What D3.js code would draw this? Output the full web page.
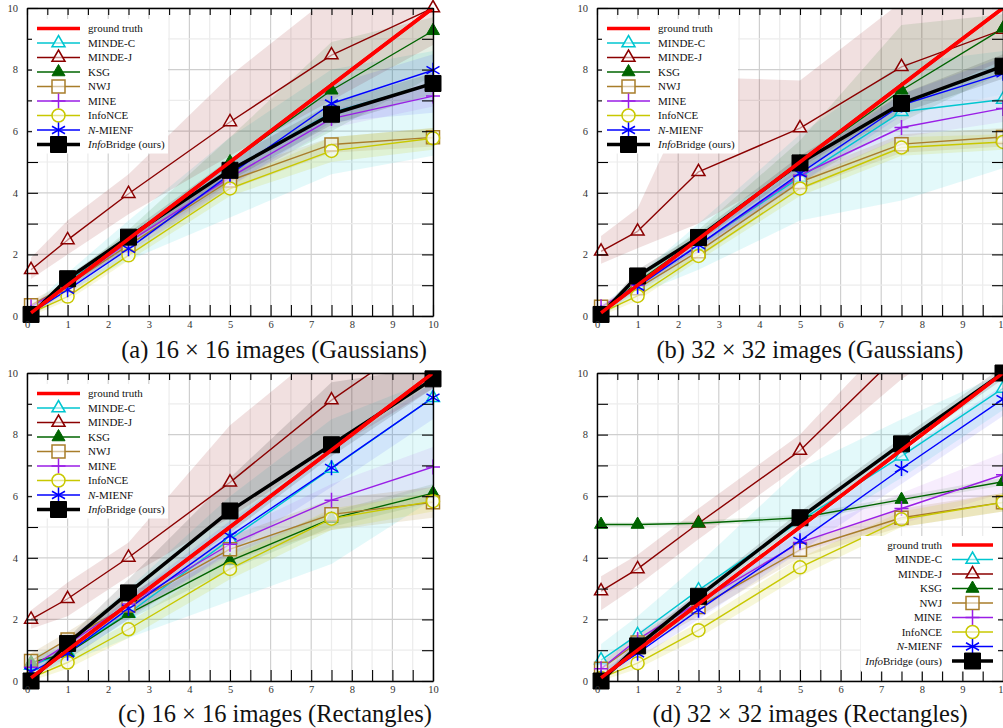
<!DOCTYPE html>
<html><head><meta charset="utf-8">
<script src="https://cdn.jsdelivr.net/npm/d3@7"></script>
<style>body{margin:0;background:#fff} svg{display:block}</style>
</head><body>
<svg id="chart" width="1003" height="728"></svg>
<script>
// ---------- data ----------
const xValues = [0.1, 1, 2.5, 5, 7.5, 10];
const methods = ["ground truth","MINDE-C","MINDE-J","KSG","NWJ","MINE","InfoNCE","N-MIENF","InfoBridge (ours)"];
const xTicks = [0,1,2,3,4,5,6,7,8,9,10];
const xMinorTicks = [0,0.5,1,1.5,2,2.5,3,3.5,4,4.5,5,5.5,6,6.5,7,7.5,8,8.5,9,9.5,10];
const yTicks = [0,1,2,3,4,5,6,7,8,9,10];
const yLabelTicks = [0,2,4,6,8,10];
const titles = ["(a) 16 \u00d7 16 images (Gaussians)","(b) 32 \u00d7 32 images (Gaussians)",
                "(c) 16 \u00d7 16 images (Rectangles)","(d) 32 \u00d7 32 images (Rectangles)"];

// Panel (a): rows in methods order
const meanA = [
  [0.1,1,2.5,5,7.5,10],
  [0.1,1.1,2.5,4.75,6.6,7.55],
  [1.5,2.47,3.97,6.3,8.47,10.0],
  [0.1,1.05,2.5,5.0,7.33,9.26],
  [0.35,1.0,2.3,4.4,5.57,5.8],
  [0.3,1.0,2.4,4.5,6.41,7.14],
  [0.1,0.63,1.97,4.14,5.36,5.77],
  [0.1,0.85,2.18,4.6,6.9,7.98],
  [0.05,1.21,2.56,4.73,6.55,7.55]
];
const lowA = [
  null,
  [0,0.8,1.8,3.2,4.6,5.2],
  [1.2,2.0,3.3,5.2,7.0,8.8],
  [0,0.9,2.2,4.3,6.0,7.8],
  [0.2,0.9,2.1,4.1,5.3,5.5],
  [0.2,0.9,2.2,4.2,6.1,6.8],
  [0,0.5,1.8,3.9,5.0,5.4],
  [0,0.7,2.0,4.2,6.3,6.6],
  [0,1.1,2.4,4.4,6.2,7.2]
];
const highA = [
  null,
  [0.3,1.4,3.1,5.8,8.0,8.6],
  [1.9,3.1,4.6,7.8,10.4,11],
  [0.2,1.2,2.8,5.8,8.9,9.7],
  [0.5,1.1,2.5,4.7,5.8,6.1],
  [0.4,1.1,2.6,4.8,6.7,7.5],
  [0.2,0.8,2.1,4.4,5.8,6.1],
  [0.2,1.0,2.4,5.0,7.5,8.5],
  [0.1,1.3,2.7,5.1,6.9,7.9]
];

// Panel (b)
const meanB = [
  [0.1,1,2.5,5,7.5,10],
  [0.1,1.0,2.3,4.5,6.63,7.03],
  [2.1,2.75,4.68,6.1,8.09,9.3],
  [0.1,1.1,2.5,5.0,7.33,9.34],
  [0.3,0.9,2.1,4.35,5.58,5.81],
  [0.3,1.0,2.3,4.57,6.12,6.74],
  [0.1,0.65,1.95,4.14,5.47,5.65],
  [0.1,0.95,2.3,4.63,6.85,7.88],
  [0.05,1.3,2.55,4.97,6.9,8.11]
];
const lowB = [
  null,
  [0,0.7,1.5,3.1,3.75,4.8],
  [1.7,2.2,3.0,4.8,6.8,8.3],
  [0,0.9,2.2,4.3,6.3,7.9],
  [0.2,0.8,1.9,4.1,5.3,5.5],
  [0.2,0.9,2.1,4.3,5.8,6.3],
  [0,0.5,1.8,3.9,5.2,5.4],
  [0,0.8,2.1,4.3,6.5,7.2],
  [0,1.1,2.4,4.7,6.6,7.7]
];
const highB = [
  null,
  [0.3,1.3,3.0,5.9,8.2,8.6],
  [2.6,3.5,7.75,7.65,10.2,10.5],
  [0.2,1.3,2.8,5.7,9.45,9.8],
  [0.4,1.0,2.3,4.6,5.9,6.1],
  [0.4,1.1,2.5,4.8,6.5,7.2],
  [0.2,0.8,2.1,4.4,5.8,5.9],
  [0.2,1.1,2.5,5.0,7.2,8.4],
  [0.1,1.5,2.7,5.2,7.2,8.5]
];

// Panel (c)
const meanC = [
  [0.1,1,2.5,5,7.5,10],
  [0.5,0.95,2.2,4.6,6.9,9.2],
  [2.0,2.67,4.01,6.45,9.12,11.4],
  [0.6,0.9,2.18,3.9,5.27,6.1],
  [0.65,1.35,2.45,4.28,5.41,5.8],
  [0.45,1.2,2.5,4.44,5.87,6.95],
  [0.1,0.6,1.68,3.64,5.27,5.84],
  [0.3,0.9,2.35,4.71,6.92,9.2],
  [0,1.22,2.86,5.52,7.67,9.81]
];
const lowC = [
  null,
  [0.2,0.6,1.4,2.6,3.8,5.9],
  [1.7,2.1,3.4,5.3,7.5,9.5],
  [0.4,0.7,2.0,3.6,5.0,5.8],
  [0.4,1.1,2.1,3.9,4.9,5.3],
  [0.3,1.0,2.2,4.1,5.4,6.3],
  [0,0.4,1.4,3.3,4.9,5.5],
  [0.1,0.7,2.0,4.2,6.3,8.5],
  [0,1.1,2.6,4.8,7.3,9.5]
];
const highC = [
  null,
  [0.8,1.3,3.0,6.0,8.5,9.8],
  [2.3,3.2,4.5,8.3,11,12],
  [0.8,1.1,2.4,4.2,5.5,6.4],
  [0.9,1.6,2.8,4.7,5.9,6.3],
  [0.6,1.4,2.8,4.8,6.4,7.6],
  [0.2,0.8,1.9,4.0,5.6,6.1],
  [0.5,1.1,2.7,5.2,7.5,9.7],
  [0.1,1.4,3.3,6.6,9.7,10.2]
];

// Panel (d)
const meanD = [
  [0.1,1,2.5,5,7.5,10],
  [0.68,1.5,2.95,5.2,7.3,9.5],
  [2.92,3.64,5.12,7.48,10.7,13],
  [5.08,5.08,5.12,5.3,5.89,6.47],
  [0.4,1.25,2.4,4.26,5.3,5.8],
  [0.4,1.35,2.55,4.5,5.6,6.7],
  [0.1,0.58,1.65,3.69,5.25,5.8],
  [0.1,0.9,2.3,4.55,6.9,9.15],
  [0,1.14,2.75,5.3,7.7,10.0]
];
const lowD = [
  null,
  [0.2,0.9,2.3,4.6,6.6,8.8],
  [2.3,3.1,4.6,7.0,9.8,12],
  [5.0,5.0,5.05,5.2,5.8,6.35],
  [0.2,1.0,2.1,4.0,5.0,5.5],
  [0.2,1.1,2.3,4.2,5.1,6.1],
  [0,0.4,1.4,3.4,5.0,5.5],
  [0,0.7,2.0,4.2,6.4,8.6],
  [0,1.0,2.6,5.1,7.5,9.8]
];
const highD = [
  null,
  [1.2,2.1,3.8,6.9,8.5,10],
  [3.4,4.1,5.6,8.0,11.5,14],
  [5.15,5.15,5.2,5.4,6.0,6.6],
  [0.6,1.5,2.7,4.5,5.6,6.1],
  [0.6,1.6,2.8,4.8,6.1,7.4],
  [0.2,0.8,1.9,4.0,5.5,6.1],
  [0.3,1.1,2.6,4.9,7.4,9.6],
  [0.1,1.3,2.9,5.5,7.9,10.2]
];

// ---------- styles ----------
const colors = ["#ff0000","#00c6d0","#8b0000","#006400","#a87d2a","#9a1ee6","#c8c800","#0000ff","#000000"];
const bandOpacity = [0,0.11,0.12,0.1,0.15,0.08,0.15,0.08,0.12];
const lineWidth = [3.5,1.4,1.4,1.4,1.4,1.4,1.4,1.4,3.5];
const markerType = ["none","tri","tri","triFill","square","plus","circle","aster","squareFill"];

function markerPath(t){
  switch(t){
    case "tri": case "triFill": return "M0,-7.5L6.5,3.75L-6.5,3.75Z";
    case "square": return "M-6.5,-6.5h13v13h-13Z";
    case "squareFill": return "M-8,-8h16v16h-16Z";
    case "circle": return "M-6.5,0A6.5,6.5 0 1,0 6.5,0A6.5,6.5 0 1,0 -6.5,0Z";
    case "plus": return "M-7,0H7M0,-7.5V7.5";
    case "aster": return "M0,-7.5V7.5M-6.5,-3.75L6.5,3.75M-6.5,3.75L6.5,-3.75";
  }
  return null;
}
function drawMarker(g, t, c, x, y){
  const p = markerPath(t); if(!p) return;
  const filled = (t==="triFill"||t==="squareFill");
  const open = (t==="tri"||t==="square"||t==="circle");
  g.append("path").attr("d",p).attr("transform",`translate(${x},${y})`)
    .attr("fill", filled ? c : (open ? "#fff" : "none"))
    .attr("fill-opacity", filled ? 1 : 0.55)
    .attr("stroke", c).attr("stroke-width", filled ? 1 : 1.5);
}

const panels = [
  {left:27, top:8, mean:meanA, low:lowA, high:highA, legend:"tl", title:titles[0], tx:274, ty:358},
  {left:597, top:8, mean:meanB, low:lowB, high:highB, legend:"tl", title:titles[1], tx:810, ty:358},
  {left:27, top:373, mean:meanC, low:lowC, high:highC, legend:"tl", title:titles[2], tx:275, ty:722},
  {left:597, top:373, mean:meanD, low:lowD, high:highD, legend:"br", title:titles[3], tx:810, ty:722}
];
const W = 406, H = 308;
const FONT = "'Liberation Serif','Times New Roman',serif";

const svg = d3.select("#chart");

panels.forEach((P, pi) => {
  const x = d3.scaleLinear().domain([0,10]).range([P.left, P.left+W]);
  const y = d3.scaleLinear().domain([0,10]).range([P.top+H, P.top]);
  const g = svg.append("g");
  const clipId = "clip"+pi;
  svg.append("defs").append("clipPath").attr("id",clipId)
    .append("rect").attr("x",P.left).attr("y",P.top).attr("width",W).attr("height",H);

  // grid
  const grid = g.append("g");
  xMinorTicks.forEach(v => {
    grid.append("line").attr("x1",x(v)).attr("x2",x(v)).attr("y1",P.top).attr("y2",P.top+H)
      .attr("stroke", Number.isInteger(v) ? "#cfcfcf" : "#ececec").attr("stroke-width",1.2);
  });
  yTicks.forEach(v => {
    grid.append("line").attr("x1",P.left).attr("x2",P.left+W).attr("y1",y(v)).attr("y2",y(v))
      .attr("stroke", v%2===0 ? "#cfcfcf" : "#ececec").attr("stroke-width",1.2);
  });

  const plot = g.append("g").attr("clip-path",`url(#${clipId})`);
  // bands
  const area = d3.area().x((d,i)=>x(xValues[i])).y0(d=>y(d[0])).y1(d=>y(d[1]));
  for(let m=1;m<methods.length;m++){
    const data = P.low[m].map((v,i)=>[v,P.high[m][i]]);
    plot.append("path").attr("d",area(data)).attr("fill",colors[m]).attr("fill-opacity",bandOpacity[m]).attr("stroke","none");
  }
  // lines
  const line = d3.line().x((d,i)=>x(xValues[i])).y(d=>y(d));
  const order = [1,2,3,4,5,6,7,8,0];
  const mk = g.append("g");
  order.forEach(m => {
    plot.append("path").attr("d",line(P.mean[m])).attr("fill","none")
      .attr("stroke",colors[m]).attr("stroke-width",lineWidth[m]).attr("stroke-linejoin","round");
  });
  [1,2,3,4,5,6,7,8].forEach(m => {
    P.mean[m].forEach((v,i) => { if(v <= 10.3) drawMarker(mk, markerType[m], colors[m], x(xValues[i]), y(v)); });
  });
  // ground truth on top of lines
  g.append("path").attr("d",line(P.mean[0])).attr("fill","none").attr("clip-path",`url(#${clipId})`)
    .attr("stroke",colors[0]).attr("stroke-width",lineWidth[0]);

  // axes
  const axStyle = sel => {
    sel.select(".domain").attr("stroke","#000").attr("stroke-width",1.4);
    sel.selectAll(".tick line").attr("stroke","#000").attr("stroke-width",1.1);
    sel.selectAll(".tick text").attr("font-family",FONT).attr("font-size",10.5).attr("fill","#333");
  };
  g.append("g").attr("transform",`translate(0,${P.top+H})`)
    .call(d3.axisBottom(x).tickValues(xMinorTicks).tickSizeInner(-11).tickSizeOuter(0).tickPadding(5)
      .tickFormat(d => Number.isInteger(d) ? d : "")).call(axStyle);
  g.append("g").attr("transform",`translate(0,${P.top})`)
    .call(d3.axisTop(x).tickValues(xMinorTicks).tickSizeInner(-7).tickSizeOuter(0).tickFormat(""))
    .call(axStyle);
  g.append("g").attr("transform",`translate(${P.left},0)`)
    .call(d3.axisLeft(y).tickValues(yTicks).tickSizeInner(-11).tickSizeOuter(0).tickPadding(9)
      .tickFormat(d => d%2===0 ? d : "")).call(axStyle);
  g.append("g").attr("transform",`translate(${P.left+W},0)`)
    .call(d3.axisRight(y).tickValues(yTicks).tickSizeInner(-11).tickSizeOuter(0).tickFormat(""))
    .call(axStyle);

  // legend
  const lg = g.append("g");
  const dy = 14.5;
  let lx0, lx1, tx, ty0, anchor, box;
  if(P.legend==="tl"){
    lx0 = P.left+10; lx1 = P.left+53; tx = P.left+61; ty0 = P.top+20.5; anchor="start";
    box = [P.left+5, P.top+11, 136, 9*dy+4];
  } else {
    lx0 = P.left+355; lx1 = P.left+396; tx = P.left+345; ty0 = P.top+172; anchor="end";
    box = [P.left+264, P.top+163, 137, 9*dy+5];
  }
  lg.append("rect").attr("x",box[0]).attr("y",box[1]).attr("width",box[2]).attr("height",box[3]).attr("fill","#fff");
  methods.forEach((name,m) => {
    const yy = ty0 + m*dy;
    lg.append("line").attr("x1",lx0).attr("x2",lx1).attr("y1",yy).attr("y2",yy)
      .attr("stroke",colors[m]).attr("stroke-width",lineWidth[m]);
    drawMarker(lg, markerType[m], colors[m], (lx0+lx1)/2, yy);
    const t = lg.append("text").attr("x",tx).attr("y",yy).attr("dy","0.35em")
      .attr("text-anchor",anchor).attr("font-family",FONT).attr("font-size",11).attr("fill","#111");
    if(name==="N-MIENF"){
      t.append("tspan").attr("font-style","italic").text("N");
      t.append("tspan").text("-MIENF");
    } else if(name.startsWith("InfoBridge")){
      t.append("tspan").attr("font-style","italic").text("Info");
      t.append("tspan").text("Bridge (ours)");
    } else t.text(name);
  });

  // title
  svg.append("text").attr("x",P.tx).attr("y",P.ty).attr("text-anchor","middle")
    .attr("font-family",FONT).attr("font-size",24.5).attr("fill","#111").text(P.title);
});
</script>
</body></html>
